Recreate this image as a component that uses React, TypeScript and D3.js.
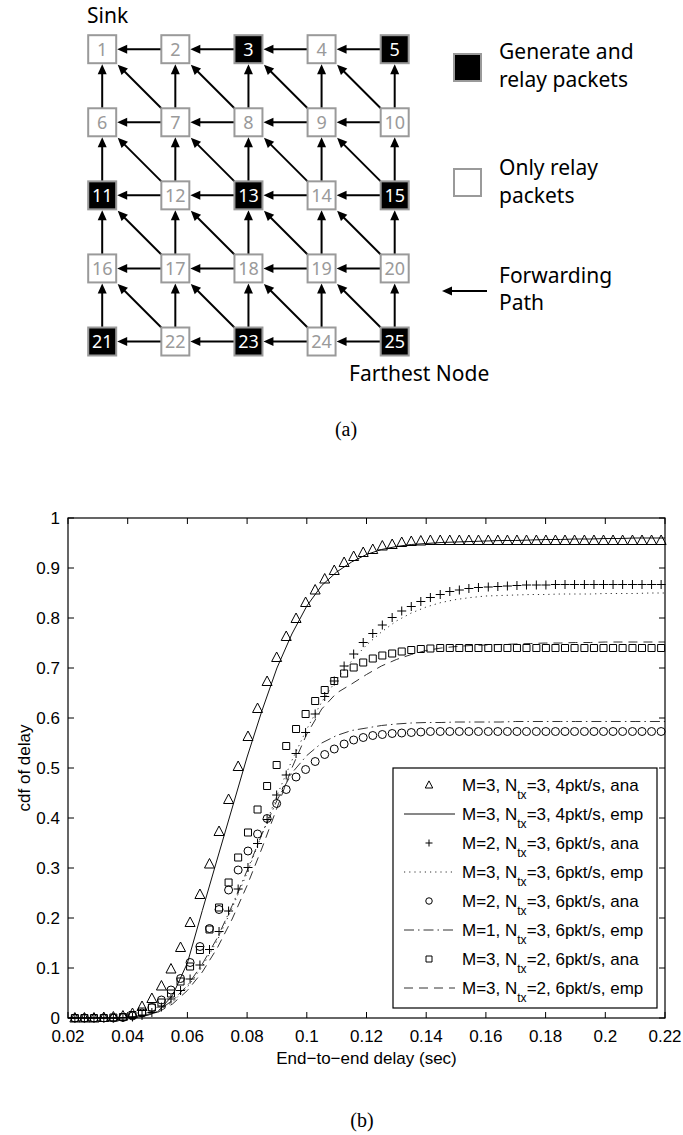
import * as d3 from 'd3';

// ---------- (a) network topology ----------
const nodeIds = [1, 2, 3, 4, 5, 6, 7, 8, 9, 10, 11, 12, 13, 14, 15, 16, 17, 18, 19, 20, 21, 22, 23, 24, 25];
const sourceNodes = [3, 5, 11, 13, 15, 21, 23, 25];

// ---------- (b) delay cdf ----------
const anaDelay = [
  0.0223, 0.0255, 0.0287, 0.032, 0.0352, 0.0384, 0.0416, 0.0448, 0.0481, 0.0513,
  0.0545, 0.0577, 0.0609, 0.0642, 0.0674, 0.0706, 0.0738, 0.077, 0.0803, 0.0835,
  0.0867, 0.0899, 0.0931, 0.0964, 0.0996, 0.1028, 0.106, 0.1092, 0.1125, 0.1157,
  0.1189, 0.1221, 0.1253, 0.1286, 0.1318, 0.135, 0.1382, 0.1414, 0.1447, 0.1479,
  0.1511, 0.1543, 0.1575, 0.1608, 0.164, 0.1672, 0.1704, 0.1736, 0.1769, 0.1801,
  0.1833, 0.1865, 0.1897, 0.193, 0.1962, 0.1994, 0.2026, 0.2058, 0.2091, 0.2123,
  0.2155, 0.2187
];
// M=3, Ntx=3, 4pkt/s, ana (triangles)
const triCdf = [
  0, 0, 0, 0.001, 0.002, 0.004, 0.009, 0.023, 0.039, 0.064,
  0.098, 0.141, 0.191, 0.247, 0.308, 0.373, 0.437, 0.503, 0.563, 0.619,
  0.673, 0.721, 0.763, 0.799, 0.831, 0.856, 0.878, 0.895, 0.911, 0.923,
  0.931, 0.937, 0.944, 0.947, 0.951, 0.953, 0.954, 0.955, 0.955, 0.955,
  0.955, 0.955, 0.955, 0.955, 0.955, 0.955, 0.955, 0.955, 0.955, 0.955,
  0.955, 0.955, 0.955, 0.955, 0.955, 0.955, 0.955, 0.955, 0.955, 0.955,
  0.955, 0.955
];
// M=2, Ntx=3, 6pkt/s, ana (plus)
const plusCdf = [
  0, 0, 0, 0, 0, 0.001, 0.002, 0.005, 0.011, 0.022,
  0.038, 0.055, 0.078, 0.106, 0.137, 0.173, 0.214, 0.258, 0.301, 0.349,
  0.397, 0.446, 0.486, 0.529, 0.571, 0.608, 0.643, 0.674, 0.704, 0.728,
  0.751, 0.769, 0.786, 0.801, 0.814, 0.823, 0.833, 0.841, 0.847, 0.853,
  0.856, 0.859, 0.861, 0.862, 0.863, 0.864, 0.865, 0.866, 0.866, 0.866,
  0.867, 0.867, 0.867, 0.867, 0.867, 0.867, 0.867, 0.867, 0.867, 0.867,
  0.867, 0.867
];
// M=2, Ntx=3, 6pkt/s, ana (circles)
const circleCdf = [
  0, 0, 0, 0, 0, 0.001, 0.004, 0.01, 0.021, 0.036,
  0.056, 0.079, 0.111, 0.143, 0.179, 0.217, 0.256, 0.296, 0.334, 0.368,
  0.399, 0.429, 0.457, 0.482, 0.497, 0.513, 0.527, 0.538, 0.548, 0.556,
  0.561, 0.565, 0.567, 0.569, 0.57, 0.571, 0.572, 0.573, 0.573, 0.573,
  0.573, 0.573, 0.573, 0.573, 0.573, 0.573, 0.573, 0.573, 0.573, 0.573,
  0.573, 0.573, 0.573, 0.573, 0.573, 0.573, 0.573, 0.573, 0.573, 0.573,
  0.573, 0.573
];
// M=3, Ntx=2, 6pkt/s, ana (squares)
const squareCdf = [
  0, 0, 0, 0, 0.001, 0.002, 0.006, 0.013, 0.021, 0.031,
  0.049, 0.073, 0.103, 0.136, 0.177, 0.221, 0.271, 0.321, 0.371, 0.417,
  0.464, 0.506, 0.544, 0.578, 0.608, 0.634, 0.656, 0.674, 0.689, 0.701,
  0.711, 0.719, 0.725, 0.729, 0.733, 0.736, 0.738, 0.739, 0.74, 0.74,
  0.74, 0.74, 0.74, 0.74, 0.74, 0.74, 0.74, 0.74, 0.74, 0.74,
  0.74, 0.74, 0.74, 0.74, 0.74, 0.74, 0.74, 0.74, 0.74, 0.74,
  0.74, 0.74
];

const empDelay = [
  0.02, 0.025, 0.03, 0.035, 0.04, 0.045, 0.05, 0.055, 0.06, 0.065,
  0.07, 0.075, 0.08, 0.085, 0.09, 0.095, 0.1, 0.105, 0.11, 0.115,
  0.12, 0.125, 0.13, 0.135, 0.14, 0.145, 0.15, 0.155, 0.16, 0.165,
  0.17, 0.175, 0.18, 0.185, 0.19, 0.195, 0.2, 0.205, 0.21, 0.215, 0.22
];
// M=3, Ntx=3, 4pkt/s, emp (solid)
const solidCdf = [
  0, 0, 0, 0, 0.001, 0.003, 0.012, 0.045, 0.11, 0.215,
  0.318, 0.42, 0.522, 0.615, 0.7, 0.768, 0.824, 0.865, 0.892, 0.912,
  0.927, 0.937, 0.943, 0.947, 0.949, 0.951, 0.952, 0.953, 0.954, 0.955,
  0.955, 0.956, 0.957, 0.957, 0.958, 0.958, 0.959, 0.959, 0.96, 0.96, 0.96
];
// M=3, Ntx=3, 6pkt/s, emp (dotted)
const dottedCdf = [
  0, 0, 0, 0, 0.001, 0.004, 0.013, 0.032, 0.062, 0.103,
  0.155, 0.22, 0.29, 0.368, 0.445, 0.515, 0.578, 0.632, 0.677, 0.714,
  0.746, 0.772, 0.794, 0.81, 0.822, 0.831, 0.837, 0.841, 0.844, 0.845,
  0.846, 0.847, 0.847, 0.848, 0.848, 0.848, 0.849, 0.849, 0.849, 0.85, 0.85
];
// M=1, Ntx=3, 6pkt/s, emp (dash-dot)
const dashDotCdf = [
  0, 0, 0, 0, 0.001, 0.004, 0.014, 0.035, 0.065, 0.108,
  0.16, 0.225, 0.295, 0.368, 0.435, 0.49, 0.525, 0.55, 0.565, 0.575,
  0.58, 0.585, 0.588, 0.59, 0.591, 0.591, 0.592, 0.592, 0.592, 0.592,
  0.593, 0.593, 0.593, 0.593, 0.593, 0.593, 0.593, 0.593, 0.593, 0.593, 0.593
];
// M=3, Ntx=2, 6pkt/s, emp (dashed)
const dashedCdf = [
  0, 0, 0, 0, 0.001, 0.003, 0.011, 0.028, 0.055, 0.092,
  0.14, 0.198, 0.265, 0.34, 0.42, 0.5, 0.568, 0.618, 0.65, 0.668,
  0.687, 0.704, 0.717, 0.727, 0.735, 0.74, 0.743, 0.745, 0.746, 0.747,
  0.748, 0.749, 0.75, 0.75, 0.751, 0.751, 0.752, 0.752, 0.752, 0.752, 0.752
];

const xTicks = [0.02, 0.04, 0.06, 0.08, 0.1, 0.12, 0.14, 0.16, 0.18, 0.2, 0.22];
const xTickLabels = ['0.02', '0.04', '0.06', '0.08', '0.1', '0.12', '0.14', '0.16', '0.18', '0.2', '0.22'];
const yTicks = [0, 0.1, 0.2, 0.3, 0.4, 0.5, 0.6, 0.7, 0.8, 0.9, 1];
const yTickLabels = ['0', '0.1', '0.2', '0.3', '0.4', '0.5', '0.6', '0.7', '0.8', '0.9', '1'];

const legendM = ['3', '3', '2', '3', '2', '1', '3', '3'];
const legendNtx = ['3', '3', '3', '3', '3', '3', '2', '2'];
const legendRate = ['4', '4', '6', '6', '6', '6', '6', '6'];
const legendKind = ['ana', 'emp', 'ana', 'emp', 'ana', 'emp', 'ana', 'emp'];

// ---------- marker shapes ----------
const triPath = (s: number) => `M0,${-s * 0.55}L${s * 0.5},${s * 0.4}L${-s * 0.5},${s * 0.4}Z`;
const plusPath = (s: number) => `M${-s / 2},0H${s / 2}M0,${-s / 2}V${s / 2}`;
const squarePath = (s: number) => `M${-s / 2},${-s / 2}h${s}v${s}h${-s}Z`;
const circlePath = (s: number) => `M${s / 2},0A${s / 2},${s / 2} 0 1,1 ${-s / 2},0A${s / 2},${s / 2} 0 1,1 ${s / 2},0Z`;

const Arrow = ({ x1, y1, x2, y2 }: { x1: number; y1: number; x2: number; y2: number }) => {
  const len = Math.hypot(x2 - x1, y2 - y1);
  const ux = (x2 - x1) / len;
  const uy = (y2 - y1) / len;
  const hl = 10;
  const hw = 4.5;
  const bx = x2 - ux * hl;
  const by = y2 - uy * hl;
  return (
    <g>
      <line x1={x1} y1={y1} x2={bx + ux} y2={by + uy} stroke="#000" strokeWidth={2} />
      <path d={`M${x2},${y2}L${bx - uy * hw},${by + ux * hw}L${bx + uy * hw},${by - ux * hw}Z`} fill="#000" />
    </g>
  );
};

const Topology = () => {
  const col = d3.scaleLinear().domain([0, 4]).range([102.2, 394.7]);
  const row = d3.scaleLinear().domain([0, 4]).range([49.2, 341.5]);
  const h = 14;
  const arrows: { x1: number; y1: number; x2: number; y2: number }[] = [];
  for (let r = 0; r < 5; r++) {
    for (let c = 0; c < 5; c++) {
      if (c < 4) arrows.push({ x1: col(c + 1) - h, y1: row(r), x2: col(c) + h + 1, y2: row(r) });
      if (r < 4) arrows.push({ x1: col(c), y1: row(r + 1) - h, x2: col(c), y2: row(r) + h + 1 });
      if (r < 4 && c < 4)
        arrows.push({ x1: col(c + 1) - h, y1: row(r + 1) - h, x2: col(c) + h + 1.5, y2: row(r) + h + 1.5 });
    }
  }
  const font = '"Noto Sans", "Open Sans", sans-serif';
  return (
    <g fontFamily={font}>
      <text x={87} y={23} fontSize={21}>Sink</text>
      {arrows.map((a, i) => <Arrow key={i} {...a} />)}
      {nodeIds.map((id, i) => {
        const r = Math.floor(i / 5);
        const c = i % 5;
        const src = sourceNodes.includes(id);
        return (
          <g key={id}>
            <rect x={col(c) - h} y={row(r) - h} width={2 * h} height={2 * h}
              fill={src ? '#000' : '#fff'} stroke="#9a9a9a" strokeWidth={2} />
            <text x={col(c)} y={row(r) + 6.5} textAnchor="middle" fontSize={18}
              fill={src ? '#fff' : '#9a9a9a'}>{id}</text>
          </g>
        );
      })}
      <text x={349} y={381} fontSize={21}>Farthest Node</text>
      {/* legend */}
      <rect x={454} y={54} width={27} height={27} fill="#000" stroke="#9a9a9a" strokeWidth={2} />
      <text x={499} y={59} fontSize={21}>Generate and</text>
      <text x={499} y={87} fontSize={21}>relay packets</text>
      <rect x={454} y={169} width={27} height={27} fill="#fff" stroke="#9a9a9a" strokeWidth={2} />
      <text x={499} y={175} fontSize={21}>Only relay</text>
      <text x={499} y={203} fontSize={21}>packets</text>
      <Arrow x1={487} y1={291} x2={442} y2={291} />
      <text x={499} y={283} fontSize={21}>Forwarding</text>
      <text x={499} y={310} fontSize={21}>Path</text>
    </g>
  );
};

const CdfPlot = () => {
  const left = 68, right = 665, top = 518, bottom = 1018;
  const x = d3.scaleLinear().domain([0.02, 0.22]).range([left, right]);
  const y = d3.scaleLinear().domain([0, 1]).range([bottom, top]);
  const empLine = d3.line<number>().x((_, i) => x(empDelay[i])).y(d => y(d));
  const font = '"Liberation Sans", Arial, Helvetica, sans-serif';
  const tl = 6;

  const anaSeries = [
    { data: triCdf, path: triPath(10) },
    { data: plusCdf, path: plusPath(9) },
    { data: circleCdf, path: circlePath(8) },
    { data: squareCdf, path: squarePath(7) }
  ];
  const empSeries = [
    { data: solidCdf, dash: 'none', color: '#111' },
    { data: dottedCdf, dash: '1.2,4', color: '#333' },
    { data: dashDotCdf, dash: '10,4,1.5,4', color: '#333' },
    { data: dashedCdf, dash: '9,6', color: '#333' }
  ];

  const lx = 393, ly = 768, lw = 264, lh = 240;
  const rowY = d3.scaleLinear().domain([0, 7]).range([ly + 17, ly + 220]);
  const legendMarks = [triPath(7.5), null, plusPath(7), null, circlePath(6.5), null, squarePath(6), null];

  return (
    <g fontFamily={font}>
      {empSeries.map((s, i) => (
        <path key={'e' + i} d={empLine(s.data) || ''} fill="none" stroke={s.color}
          strokeWidth={1} strokeDasharray={s.dash} />
      ))}
      {anaSeries.map((s, i) => (
        <g key={'a' + i}>
          {s.data.map((v, j) => (
            <path key={j} transform={`translate(${x(anaDelay[j])},${y(v)})`} d={s.path}
              fill="none" stroke="#000" strokeWidth={1} />
          ))}
        </g>
      ))}
      <rect x={left} y={top} width={right - left} height={bottom - top} fill="none" stroke="#000" strokeWidth={1.2} />
      {xTicks.map((t, i) => (
        <g key={'xt' + i}>
          <line x1={x(t)} x2={x(t)} y1={bottom} y2={bottom - tl} stroke="#000" />
          <line x1={x(t)} x2={x(t)} y1={top} y2={top + tl} stroke="#000" />
          <text x={x(t)} y={bottom + 24} textAnchor="middle" fontSize={17}>{xTickLabels[i]}</text>
        </g>
      ))}
      {yTicks.map((t, i) => (
        <g key={'yt' + i}>
          <line x1={left} x2={left + tl} y1={y(t)} y2={y(t)} stroke="#000" />
          <line x1={right} x2={right - tl} y1={y(t)} y2={y(t)} stroke="#000" />
          <text x={left - 8} y={y(t) + 6} textAnchor="end" fontSize={17}>{yTickLabels[i]}</text>
        </g>
      ))}
      <text x={(left + right) / 2} y={1064} textAnchor="middle" fontSize={17}>End−to−end delay (sec)</text>
      <text transform={`translate(30,${(top + bottom) / 2}) rotate(-90)`} textAnchor="middle" fontSize={17}>cdf of delay</text>

      <rect x={lx} y={ly} width={lw} height={lh} fill="#fff" stroke="#000" strokeWidth={1.2} />
      {legendM.map((m, i) => {
        const cy = rowY(i);
        const mk = legendMarks[i];
        const es = empSeries[Math.floor(i / 2)];
        return (
          <g key={'lg' + i}>
            {mk ? (
              <path transform={`translate(${lx + 36},${cy})`} d={mk} fill="none" stroke="#000" strokeWidth={1} />
            ) : (
              <line x1={lx + 11} x2={lx + 62} y1={cy} y2={cy} stroke={es.color} strokeWidth={1}
                strokeDasharray={es.dash} />
            )}
            <text x={lx + 69} y={cy + 6} fontSize={17}>
              {`M=${m}, N`}
              <tspan fontSize={12} dy={8}>tx</tspan>
              <tspan dy={-8}>{`=${legendNtx[i]}, ${legendRate[i]}pkt/s, ${legendKind[i]}`}</tspan>
            </text>
          </g>
        );
      })}
    </g>
  );
};

export default function App() {
  return (
    <svg width={683} height={1135} style={{ position: 'absolute', left: 0, top: 0, background: '#fff' }}>
      <rect width={683} height={1135} fill="#fff" />
      <Topology />
      <text x={346} y={436} textAnchor="middle" fontSize={20} fontFamily='"Liberation Serif", "DejaVu Serif", serif'>(a)</text>
      <CdfPlot />
      <text x={362} y={1127} textAnchor="middle" fontSize={20} fontFamily='"Liberation Serif", "DejaVu Serif", serif'>(b)</text>
    </svg>
  );
}
